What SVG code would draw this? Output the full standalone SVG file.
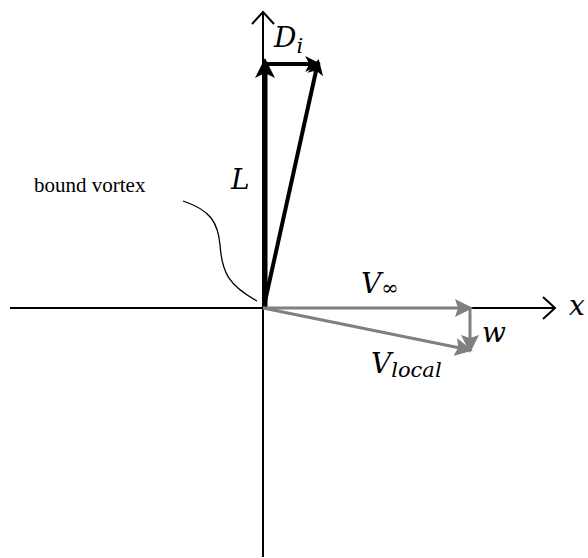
<svg xmlns="http://www.w3.org/2000/svg" width="588" height="558" viewBox="0 0 588 558">
<defs>
<marker id="ab" markerWidth="4" markerHeight="4" refX="3.2" refY="2" orient="auto" markerUnits="strokeWidth"><path d="M0,0 L4,2 L0,4 L1,2 Z" fill="#000"/></marker>
<marker id="ag" markerWidth="6" markerHeight="6" refX="5" refY="3" orient="auto" markerUnits="strokeWidth"><path d="M0,0 L6,3 L0,6 L1,3 Z" fill="#808080"/></marker>
</defs>
<style>
.ax{stroke:#000;stroke-width:2;fill:none}
.bk{stroke:#000;stroke-width:4;fill:none;marker-end:url(#ab)}
.gr{stroke:#808080;stroke-width:3;fill:none;marker-end:url(#ag)}
.m{font-family:"DejaVu Serif","Liberation Serif",serif;font-style:italic;font-size:28px;fill:#000}
.s{font-size:21px}
.t{font-family:"Liberation Serif",serif;font-size:21px;fill:#000}
</style>
<g id="axes">
<line class="ax" x1="10" y1="308" x2="555" y2="308"/>
<path class="ax" d="M543,297 L555,308 L543,319"/>
<line class="ax" x1="263" y1="557" x2="263" y2="12"/>
<path class="ax" d="M252,24 L263,12 L274,24"/>
</g>
<g id="connectors">
<line class="bk" x1="265" y1="308" x2="265" y2="62" style="stroke-width:5"/>
<line class="bk" x1="265" y1="64" x2="318" y2="64"/>
<line class="bk" x1="264" y1="306" x2="318" y2="62"/>
<line class="gr" x1="263" y1="308" x2="470" y2="308"/>
<line class="gr" x1="470" y1="308" x2="470" y2="350"/>
<line class="gr" x1="263" y1="308" x2="470" y2="350"/>
<path d="M183,201 C210,210 218,222 220,245 C222,272 228,285 257,301" stroke="#000" stroke-width="1.3" fill="none"/>
</g>
<g id="labels">
<text class="m" x="274" y="47">D<tspan class="s" dy="6">i</tspan></text>
<text class="m" x="231" y="189">L</text>
<text class="t" x="34" y="192">bound vortex</text>
<text class="m" x="361" y="293">V<tspan class="s" dy="2">∞</tspan></text>
<text class="m" x="569" y="315">x</text>
<text class="m" x="482" y="342">w</text>
<text class="m" x="371" y="373">V<tspan class="s" dy="4">local</tspan></text>
</g>
</svg>
